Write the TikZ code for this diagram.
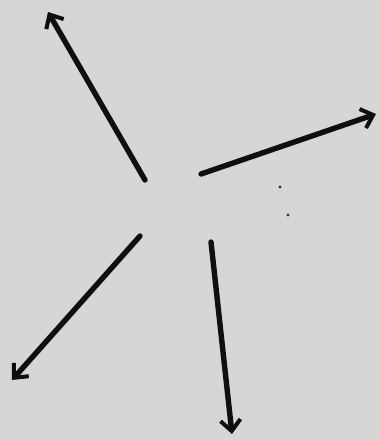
\documentclass[tikz,border=0pt]{standalone}
\usetikzlibrary{arrows.meta}
\definecolor{paper}{RGB}{214,214,212}
\definecolor{ink}{RGB}{15,15,15}
\tikzset{
  arr/.style={draw=ink, line width=5.4pt, line cap=round,
    -{Straight Barb[length=11pt, width=20pt, line width=4pt]}},
  speck/.style={fill=ink!85, inner sep=0pt, minimum size=3.4pt, circle}
}
\begin{document}
\begin{tikzpicture}[x=1pt,y=-1pt]
  \fill[paper] (0,0) rectangle (380,440);
  \useasboundingbox (0,0) rectangle (380,440);
  \coordinate (s1) at (145,180); \coordinate (t1) at (48,12);
  \coordinate (s2) at (201,174); \coordinate (t2) at (376,114);
  \coordinate (s3) at (140,236); \coordinate (t3) at (12,380);
  \coordinate (s4) at (211,242); \coordinate (t4) at (232,434);
  \draw[arr] (s1) -- (t1);
  \draw[arr] (s2) -- (t2);
  \draw[arr] (s3) -- (t3);
  \draw[arr] (s4) -- (t4);
  \node[speck] (d1) at (280,187) {};
  \node[speck] (d2) at (288,215) {};
\end{tikzpicture}
\end{document}
